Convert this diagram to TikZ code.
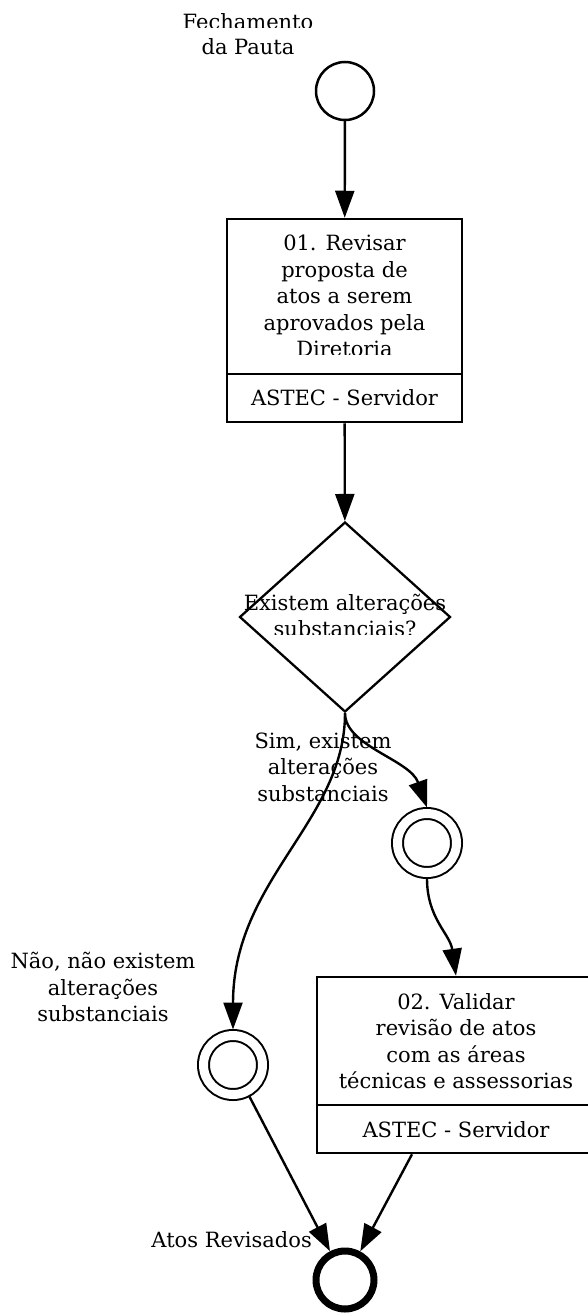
\documentclass[tikz,border=0pt]{standalone}
\usepackage{fontspec}
\setmainfont{DejaVu Serif}
\usetikzlibrary{arrows.meta,shapes.geometric}
\begin{document}
\begin{tikzpicture}[x=1pt,y=-1pt,
  txt/.style={font=\fontsize{21}{26.5}\selectfont, inner sep=0pt, align=center},
  flow/.style={line width=2.4pt, -{Triangle[length=27pt,width=19pt]}},
  startev/.style={circle, draw, line width=2.5pt, minimum size=58pt, inner sep=0pt},
  interev/.style={circle, draw, line width=2pt, double, double distance=9pt, minimum size=59pt, inner sep=0pt, outer sep=6pt},
  endev/.style={circle, draw, line width=7pt, minimum size=58pt, inner sep=0pt},
  taskbox/.style={rectangle, draw, line width=2.5pt, inner sep=0pt},
  gate/.style={diamond, draw, line width=2.3pt, inner sep=0pt, minimum width=211pt, minimum height=190pt}
]
\useasboundingbox[fill=white] (0,0) rectangle (587,1313);

% start event and its label
\node[startev] (start) at (345,91) {};
\begin{scope}
  \clip (150,0) rectangle (350,28);
  \node[txt, anchor=base] (lblA) at (248,30) {Fechamento};
\end{scope}
\node[txt, anchor=base] (lblB) at (248,55) {da Pauta};

% task 1
\node[taskbox, minimum width=235pt, minimum height=203pt] (t1) at (344.5,320.5) {};
\draw[line width=2.5pt] (t1.west |- 0,374) -- (t1.east |- 0,374);
\begin{scope}
  \clip (227,219) rectangle (462,354);
  \node[txt] (t1txt) at (344.5,296) {01. Revisar\\proposta de\\atos a serem\\aprovados pela\\Diretoria};
\end{scope}
\node[txt, anchor=base] (t1lane) at (344.5,405) {ASTEC - Servidor};

% gateway
\node[gate] (gw) at (345,617) {};
\begin{scope}
  \clip (230,540) rectangle (460,634);
  \node[txt] (gwtxt) at (345,615.5) {Existem alterações\\substanciais?};
\end{scope}

% intermediate events
\node[interev] (sim) at (427,843) {};
\node[interev] (nao) at (233,1065) {};

% task 2
\node[taskbox, minimum width=278pt, minimum height=176pt] (t2) at (456,1065) {};
\draw[line width=2.5pt] (t2.west |- 0,1105) -- (t2.east |- 0,1105);
\node[txt] (t2txt) at (456,1041) {02. Validar\\revisão de atos\\com as áreas\\técnicas e assessorias};
\node[txt, anchor=base] (t2lane) at (456,1137) {ASTEC - Servidor};

% end event
\node[endev] (finish) at (345,1280) {};

% edge labels
\node[txt] (simlbl) at (323,767) {Sim, existem\\alterações\\substanciais};
\node[txt] (naolbl) at (103,987) {Não, não existem\\alterações\\substanciais};
\node[txt, anchor=base east] (endlbl) at (312,1247) {Atos Revisados};

% connectors
\draw[flow] (start) -- (t1);
\draw[flow] (t1) -- (gw);
\draw[flow] (gw.south) .. controls +(0,33) and +(-17,-48) .. (sim.north);
\draw[flow] (gw.south) .. controls +(0,108) and +(0,-150) .. (nao.north);
\draw[flow] (sim.south) .. controls +(0,40) and +(-6,-42) .. (t2.north);
\draw[flow] (nao) -- (finish);
\draw[flow] ([xshift=-44pt]t2.south) -- (finish);
\end{tikzpicture}
\end{document}
